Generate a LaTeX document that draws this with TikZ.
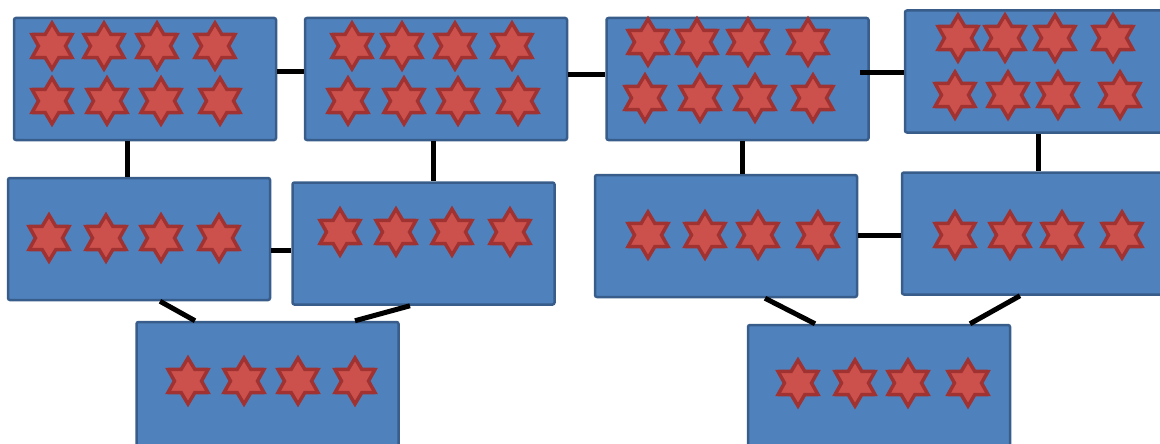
\documentclass[tikz,border=0pt]{standalone}
\usetikzlibrary{shapes.geometric}
\definecolor{boxfill}{RGB}{79,129,189}
\definecolor{boxline}{RGB}{56,93,138}
\definecolor{starfill}{RGB}{204,80,76}
\definecolor{starline}{RGB}{160,50,50}
\tikzset{
  box/.style={draw=boxline, fill=boxfill, line width=2.5pt, rounded corners=2pt,
    minimum width=262pt, minimum height=122pt, inner sep=0pt},
  starnode/.style={star, star points=6, star point ratio=1.7, draw=starline,
    fill=starfill, line width=3.5pt, minimum size=46pt, inner sep=0pt},
  link/.style={line width=5pt, black}
}
\begin{document}
\begin{tikzpicture}[x=1pt,y=-1pt]
\useasboundingbox (0,0) rectangle (1160,444);
\clip (0,0) rectangle (1160,444);
% boxes
\node[box] (A) at (145,79) {};
\node[box] (B) at (436,79) {};
\node[box] (C) at (737.5,79) {};
\node[box] (D) at (1036,71.5) {};
\node[box] (E) at (139,239) {};
\node[box] (F) at (423.5,243.5) {};
\node[box] (G) at (726,236) {};
\node[box] (H) at (1033,233.5) {};
\node[box, minimum height=130pt] (I) at (267.5,387) {};
\node[box, minimum height=130pt] (J) at (879,390) {};
% stars
\foreach \x [count=\i] in {52,104,157,215} \node[starnode] (A-\i) at (\x,46) {};
\foreach \x [count=\i from 5] in {52,107,161,220} \node[starnode] (A-\i) at (\x,101) {};
\foreach \x [count=\i] in {352,402,455,512} \node[starnode] (B-\i) at (\x,46) {};
\foreach \x [count=\i from 5] in {348,404,458,518} \node[starnode] (B-\i) at (\x,101) {};
\foreach \x [count=\i] in {648,697,748,808} \node[starnode] (C-\i) at (\x,42) {};
\foreach \x [count=\i from 5] in {645,700,755,813} \node[starnode] (C-\i) at (\x,98) {};
\foreach \x [count=\i] in {958,1005,1055,1113} \node[starnode] (D-\i) at (\x,38) {};
\foreach \x [count=\i from 5] in {955,1008,1058,1120} \node[starnode] (D-\i) at (\x,95) {};
\foreach \x [count=\i] in {49,106,161,219} \node[starnode] (E-\i) at (\x,238) {};
\foreach \x [count=\i] in {340,396,452,510} \node[starnode] (F-\i) at (\x,232) {};
\foreach \x [count=\i] in {648,705,758,818} \node[starnode] (G-\i) at (\x,235) {};
\foreach \x [count=\i] in {955,1010,1062,1122} \node[starnode] (H-\i) at (\x,235) {};
\foreach \x [count=\i] in {188,244,298,355} \node[starnode] (I-\i) at (\x,381) {};
\foreach \x [count=\i] in {798,855,908,968} \node[starnode] (J-\i) at (\x,383) {};
% connectors
\draw[link] (A.east |- 0,72) -- (B.west |- 0,72);
\draw[link] (B.east |- 0,75) -- (C.west |- 0,75);
\draw[link] ([xshift=-10pt]C.east |- 0,73) -- (D.west |- 0,73);
\draw[link] (A.south -| 127,0) -- (E.north -| 127,0);
\draw[link] (B.south -| 433,0) -- (F.north -| 433,0);
\draw[link] (C.south -| 742,0) -- (G.north -| 742,0);
\draw[link] (D.south -| 1038,0) -- (H.north -| 1038,0);
\draw[link] (E.east |- 0,250) -- (F.west |- 0,250);
\draw[link] (G.east |- 0,235) -- (H.west |- 0,235);
\draw[link] (E.south -| 160,0) -- (I.north -| 195,0);
\draw[link] (F.south -| 410,0) -- (I.north -| 355,0);
\draw[link] (G.south -| 765,0) -- (J.north -| 815,0);
\draw[link] (H.south -| 1020,0) -- (J.north -| 970,0);
\end{tikzpicture}
\end{document}
